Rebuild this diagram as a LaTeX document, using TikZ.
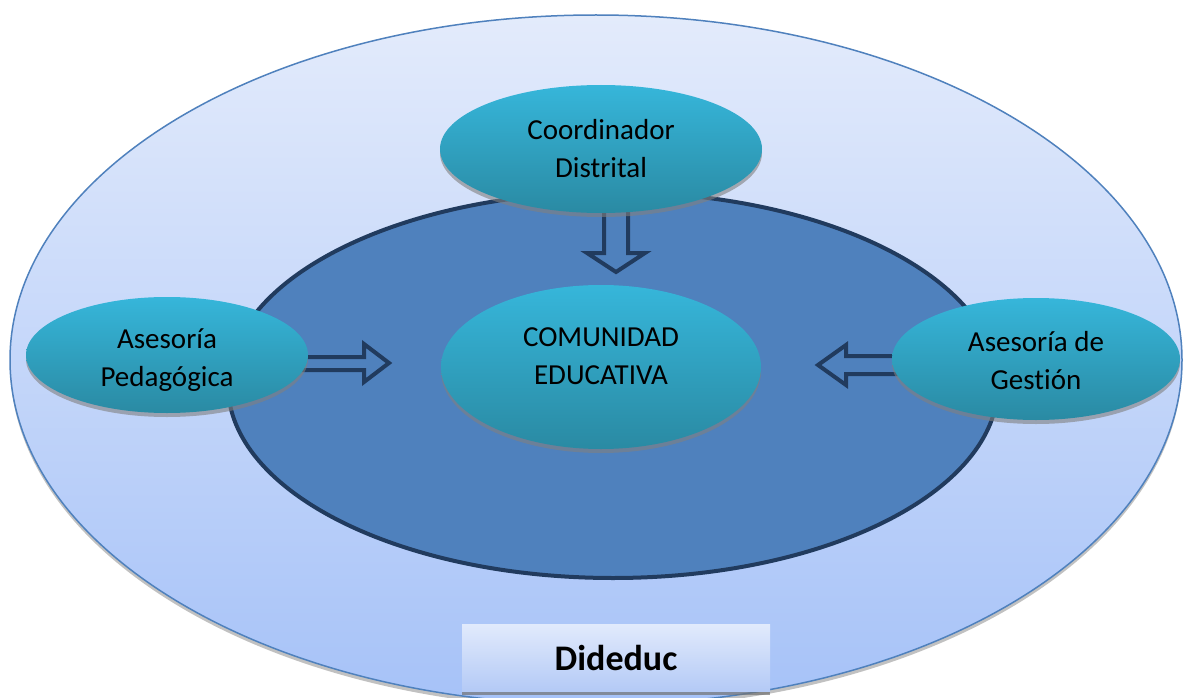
\documentclass[tikz,border=0pt]{standalone}
\usepackage{fontspec}
\setmainfont{Carlito}[Ligatures=NoCommon]
\usetikzlibrary{shapes.geometric,shadows}
\definecolor{outertop}{HTML}{E3EBFB}
\definecolor{outerbot}{HTML}{A6C2F8}
\definecolor{innerfill}{HTML}{4F81BD}
\definecolor{innerline}{HTML}{213B5E}
\definecolor{cyantop}{HTML}{36B6DA}
\definecolor{cyanbot}{HTML}{2A8AA3}
\definecolor{boxtop}{HTML}{E1EAFC}
\definecolor{boxbot}{HTML}{B4CAF6}
\begin{document}
\begin{tikzpicture}[x=1pt,y=-1pt,
  bubble/.style={ellipse, inner sep=0pt, top color=cyantop, bottom color=cyanbot,
    drop shadow={shadow xshift=0pt, shadow yshift=-4pt, fill=black!50, opacity=0.6}},
  txt/.style={font=\fontsize{29}{38}\selectfont, align=center, inner sep=0pt},
  blockarrow/.style={draw=innerline, line width=4pt, fill=innerfill, line join=miter}]
\useasboundingbox (0,0) rectangle (1183,698);
\fill[white] (0,0) rectangle (1183,698);
\clip (0,0) rectangle (1183,698);
% outer area
\node[ellipse, inner sep=0pt, minimum width=1172pt, minimum height=690pt,
  top color=outertop, bottom color=outerbot, draw=innerfill, line width=1.5pt,
  drop shadow={shadow xshift=0pt, shadow yshift=-4pt, fill=black!40, opacity=0.6}]
  (area) at (596,360) {};
% inner area
\node[ellipse, inner sep=0pt, minimum width=770pt, minimum height=386pt,
  fill=innerfill, draw=innerline, line width=4pt] (inner) at (613,385) {};
% block arrows
\draw[blockarrow] (604,205) -- (628,205) -- (628,253) -- (645,253) -- (616,272)
  -- (587,253) -- (604,253) -- cycle;
\draw[blockarrow] (295,357) -- (364,357) -- (364,344) -- (389,363) -- (364,382)
  -- (364,370) -- (295,370) -- cycle;
\draw[blockarrow] (905,356) -- (846,356) -- (846,345) -- (818,365) -- (846,385)
  -- (846,374) -- (905,374) -- cycle;
% bubbles
\node[bubble, minimum width=322pt, minimum height=128pt] (coord) at (601,149) {};
\node[txt] at (coord.center) {Coordinador\\Distrital};
\node[bubble, minimum width=282pt, minimum height=116pt] (ped) at (167,355) {};
\node[txt] at ([yshift=-5pt]ped.center) {Asesoría\\Pedagógica};
\node[bubble, minimum width=288pt, minimum height=122pt] (ges) at (1036,359) {};
\node[txt] at ([yshift=-2pt]ges.center) {Asesoría de\\Gestión};
\node[bubble, minimum width=320pt, minimum height=164pt] (com) at (601,367) {};
\node[txt] at ([yshift=11pt]com.center) {COMUNIDAD\\EDUCATIVA};
% label box
\node[rectangle, minimum width=308pt, minimum height=67pt, inner sep=0pt,
  top color=boxtop, bottom color=boxbot,
  drop shadow={shadow xshift=0pt, shadow yshift=-4pt, fill=black!55, opacity=0.7},
  font=\fontsize{36}{40}\selectfont\bfseries] (dideduc) at (616,657.5) {Dideduc};
\end{tikzpicture}
\end{document}
